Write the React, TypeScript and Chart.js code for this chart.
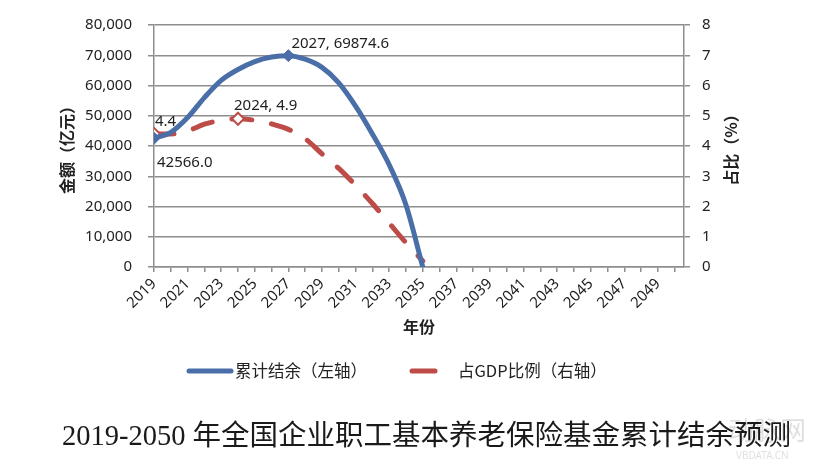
import React, { useEffect, useRef } from "react";
import { Chart, registerables } from "chart.js";

Chart.register(...registerables);

// ---- data ----
const tickYears = [
  2019, 2020, 2021, 2022, 2023, 2024, 2025, 2026, 2027, 2028, 2029, 2030, 2031, 2032, 2033, 2034,
  2035, 2036, 2037, 2038, 2039, 2040, 2041, 2042, 2043, 2044, 2045, 2046, 2047, 2048, 2049, 2050,
];
const labelYears = [2019, 2021, 2023, 2025, 2027, 2029, 2031, 2033, 2035, 2037, 2039, 2041, 2043, 2045, 2047, 2049];
const dataYears = [2019, 2020, 2021, 2022, 2023, 2024, 2025, 2026, 2027, 2028, 2029, 2030, 2031, 2032, 2033, 2034, 2035];
const balance = [42566.0, 44500, 49400, 56000, 61700, 65300, 67900, 69400, 69874.6, 68700, 66000, 60900, 53200, 44000, 33800, 20500, 0];
const gdpShare = [4.4, 4.4, 4.5, 4.72, 4.85, 4.9, 4.85, 4.73, 4.55, 4.24, 3.74, 3.26, 2.7, 2.1, 1.45, 0.8, 0.2];
const leftTicks = [0, 10000, 20000, 30000, 40000, 50000, 60000, 70000, 80000];
const rightTicks = [0, 1, 2, 3, 4, 5, 6, 7, 8];
const balanceMarked = [2019, 2027];
const shareMarked = [2019, 2024];

const seriesNames = ["累计结余（左轴）", "占GDP比例（右轴）"];
const leftTitle = "金额（亿元）";
const rightTitle = "占比（%）";
const xTitle = "年份";
const caption = "2019-2050 年全国企业职工基本养老保险基金累计结余预测";
const watermark = ["动脉网", "VBDATA.CN"];

// ---- styles ----
const BLUE = "#4a6fa8";
const RED = "#bd4b48";
const GRID = "#8e8e8e";
const TEXT = "#222222";
const SANS = "'Noto Sans', 'Noto Sans CJK SC', sans-serif";
const CJK = "'Noto Sans CJK SC', 'Noto Sans', sans-serif";

const textPlugin = {
  id: "texts",
  afterDatasetsDraw(chart: any) {
    const ctx = chart.ctx as CanvasRenderingContext2D;
    const { left, right, top, bottom } = chart.chartArea;
    const xs = chart.scales.x;
    const ys = chart.scales.y;
    const y1 = chart.scales.y1;
    const mid = (top + bottom) / 2;
    ctx.save();
    ctx.fillStyle = TEXT;
    ctx.textBaseline = "middle";

    // data labels
    ctx.font = `15px ${SANS}`;
    ctx.textAlign = "left";
    const iPeak = dataYears.indexOf(2027);
    ctx.fillText(
      `${dataYears[iPeak]}, ${balance[iPeak].toFixed(1)}`,
      xs.getPixelForValue(dataYears[iPeak]) + 3,
      ys.getPixelForValue(balance[iPeak]) - 12
    );
    const iShare = dataYears.indexOf(2024);
    ctx.fillText(
      `${dataYears[iShare]}, ${gdpShare[iShare].toFixed(1)}`,
      xs.getPixelForValue(dataYears[iShare]) - 4,
      y1.getPixelForValue(gdpShare[iShare]) - 13.5
    );
    ctx.fillText(
      `${gdpShare[0].toFixed(1)}`,
      xs.getPixelForValue(dataYears[0]) + 1,
      y1.getPixelForValue(gdpShare[0]) - 12.5
    );
    ctx.fillText(
      `${balance[0].toFixed(1)}`,
      xs.getPixelForValue(dataYears[0]) + 3,
      ys.getPixelForValue(balance[0]) + 24
    );

    // axis titles
    ctx.font = `bold 16px ${CJK}`;
    ctx.textAlign = "center";
    ctx.save();
    ctx.translate(67, mid);
    ctx.rotate(-Math.PI / 2);
    ctx.fillText(leftTitle, 0, 0);
    ctx.restore();
    ctx.save();
    ctx.translate(right + 47, mid);
    ctx.rotate(-Math.PI / 2);
    ctx.fillText(rightTitle, 0, 0);
    ctx.restore();
    ctx.fillText(xTitle, (left + right) / 2, 327);

    // legend
    const ly = 371;
    ctx.lineCap = "round";
    ctx.lineWidth = 5;
    ctx.strokeStyle = BLUE;
    ctx.beginPath();
    ctx.moveTo(189, ly);
    ctx.lineTo(231, ly);
    ctx.stroke();
    ctx.strokeStyle = RED;
    ctx.beginPath();
    ctx.moveTo(412, ly);
    ctx.lineTo(435, ly);
    ctx.stroke();
    ctx.font = `16.5px ${CJK}`;
    ctx.textAlign = "left";
    ctx.fillText(seriesNames[0], 235, ly);
    ctx.fillText(seriesNames[1], 458, ly);

    // watermark (faint, behind caption end)
    ctx.fillStyle = "rgba(0,0,0,0.13)";
    ctx.font = `26px ${CJK}`;
    ctx.fillText(watermark[0], 728, 430);
    ctx.font = `10px ${SANS}`;
    ctx.fillText(watermark[1], 736, 456);

    // caption
    ctx.font = `28.5px 'Liberation Serif', 'Noto Sans CJK SC', serif`;
    ctx.fillStyle = "#1a1a1a";
    ctx.fillText(caption, 62, 438);
    ctx.restore();
  },
};

export default function App() {
  const ref = useRef<HTMLCanvasElement | null>(null);

  useEffect(() => {
    document.body.style.margin = "0";
    const canvas = ref.current;
    if (!canvas) return;
    const tickFont = { family: SANS, size: 15 };
    const chart = new Chart(canvas, {
      type: "line",
      data: {
        datasets: [
          {
            label: seriesNames[0],
            data: dataYears.map((x, i) => ({ x, y: balance[i] })),
            yAxisID: "y",
            borderColor: BLUE,
            backgroundColor: BLUE,
            borderWidth: 5,
            borderCapStyle: "round",
            borderJoinStyle: "round",
            cubicInterpolationMode: "monotone",
            pointStyle: "rectRot",
            pointRadius: (c: any) => (balanceMarked.includes(dataYears[c.dataIndex]) ? 6 : 0),
            pointBackgroundColor: BLUE,
            pointBorderColor: BLUE,
            pointBorderWidth: 1,
          },
          {
            label: seriesNames[1],
            data: dataYears.map((x, i) => ({ x, y: gdpShare[i] })),
            yAxisID: "y1",
            borderColor: RED,
            backgroundColor: RED,
            borderWidth: 5,
            borderDash: [20, 20],
            borderCapStyle: "round",
            cubicInterpolationMode: "monotone",
            pointStyle: "rectRot",
            pointRadius: (c: any) => (shareMarked.includes(dataYears[c.dataIndex]) ? 6 : 0),
            pointBackgroundColor: "#ffffff",
            pointBorderColor: RED,
            pointBorderWidth: 2,
          },
        ],
      } as any,
      options: {
        responsive: false,
        animation: false,
        events: [],
        layout: { padding: { top: 24, left: 0, right: 0, bottom: 0 } },
        plugins: { legend: { display: false }, tooltip: { enabled: false }, title: { display: false } },
        scales: {
          x: {
            type: "linear",
            min: 2019,
            max: 2050.55,
            afterBuildTicks: (s: any) => {
              s.ticks = tickYears.map((v) => ({ value: v }));
            },
            afterFit: (s: any) => {
              s.height = 474 - 267;
            },
            ticks: {
              autoSkip: false,
              minRotation: 45,
              maxRotation: 45,
              padding: 3,
              color: TEXT,
              font: tickFont,
              callback: (v: any) => (labelYears.includes(Number(v)) ? String(v) : ""),
            },
            grid: { drawOnChartArea: false, drawTicks: true, tickLength: 5, color: GRID, lineWidth: 1.5 },
            border: { color: GRID, width: 1.5 },
          },
          y: {
            position: "left",
            min: 0,
            max: 80000,
            afterBuildTicks: (s: any) => {
              s.ticks = leftTicks.map((v) => ({ value: v }));
            },
            afterFit: (s: any) => {
              s.width = 154;
            },
            ticks: {
              padding: 16,
              color: TEXT,
              font: tickFont,
              callback: (v: any) => Number(v).toLocaleString("en-US"),
            },
            grid: { color: GRID, lineWidth: 1.5, tickLength: 6 },
            border: { color: GRID, width: 1.5 },
          },
          y1: {
            position: "right",
            min: 0,
            max: 8,
            afterBuildTicks: (s: any) => {
              s.ticks = rightTicks.map((v) => ({ value: v }));
            },
            afterFit: (s: any) => {
              s.width = 814 - 684;
            },
            ticks: { padding: 12, color: TEXT, font: tickFont, callback: (v: any) => String(v) },
            grid: { drawOnChartArea: false, drawTicks: true, color: GRID, lineWidth: 1.5, tickLength: 6 },
            border: { color: GRID, width: 1.5 },
          },
        },
      } as any,
      plugins: [textPlugin],
    });
    return () => chart.destroy();
  }, []);

  return (
    <div style={{ width: 814, height: 474, background: "#ffffff" }}>
      <canvas ref={ref} width={814} height={474} style={{ display: "block" }} />
    </div>
  );
}
